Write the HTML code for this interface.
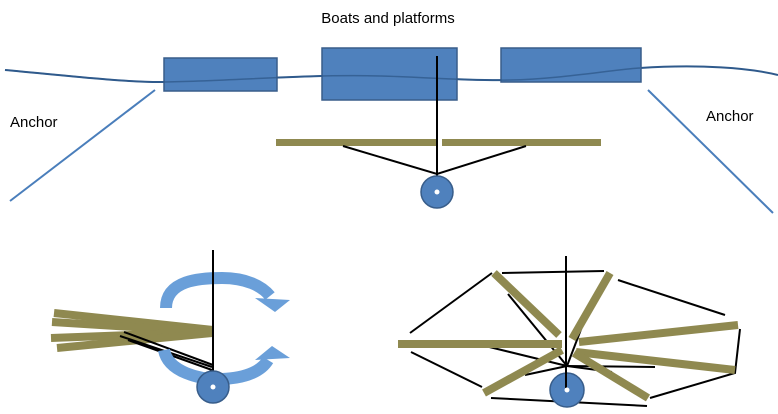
<!DOCTYPE html>
<html><head><meta charset="utf-8"><style>
html,body{margin:0;padding:0;background:#fff;}
svg{display:block;font-family:"Liberation Sans",sans-serif;}
</style></head><body>
<svg width="778" height="414" viewBox="0 0 778 414">
<text x="388" y="23" text-anchor="middle" font-size="15" fill="#000">Boats and platforms</text>
<path d="M5,70 C60,75 120,82 160,82 C220,82 300,74 380,76 C420,77 470,81 510,80 C560,79 610,70 640,68 C700,64 750,68 778,75" fill="none" stroke="#2f5a8c" stroke-width="2"/>
<g fill="#4f81bd" stroke="#385d8a" stroke-width="1.5">
<rect x="164" y="58" width="113" height="33"/>
<rect x="322" y="48" width="135" height="52"/>
<rect x="501" y="48" width="140" height="34"/>
</g>
<path d="M5,70 C60,75 120,82 160,82 C220,82 300,74 380,76 C420,77 470,81 510,80 C560,79 610,70 640,68" fill="none" stroke="#2f5a8c" stroke-width="1.5" opacity="0.8"/>
<line x1="155" y1="90" x2="10" y2="201" stroke="#4a7ebb" stroke-width="2"/>
<line x1="648" y1="90" x2="773" y2="213" stroke="#4a7ebb" stroke-width="2"/>
<text x="10" y="127" font-size="15">Anchor</text>
<text x="706" y="121" font-size="15">Anchor</text>
<rect x="276" y="139" width="160" height="7" fill="#8f8950"/>
<rect x="442" y="139" width="159" height="7" fill="#8f8950"/>
<g stroke="#000" stroke-width="2" fill="none">
<line x1="437" y1="56" x2="437" y2="190"/>
<polyline points="343,146 437,174 526,146"/>
</g>
<circle cx="437" cy="192" r="16" fill="#4f81bd" stroke="#385d8a" stroke-width="1.5"/>
<circle cx="437" cy="192" r="2.5" fill="#fff"/>

<g>
<path d="M166,308 C166,280 200,278 222,278 C246,278 262,286 270,296" fill="none" stroke="#6a9fd9" stroke-width="12"/>
<polygon points="255,298 290,300 275,312" fill="#6a9fd9"/>
<g stroke="#8f8950" stroke-width="8">
<line x1="54" y1="313" x2="213" y2="330"/>
<line x1="52" y1="322" x2="213" y2="332"/>
<line x1="51" y1="338" x2="213" y2="332"/>
<line x1="57" y1="348" x2="212" y2="333"/>
</g>
<g stroke="#000" stroke-width="2">
<line x1="124" y1="332" x2="213" y2="365"/>
<line x1="120" y1="336" x2="212" y2="367"/>
<line x1="128" y1="340" x2="212" y2="370"/>
<line x1="213" y1="250" x2="213" y2="385"/>
</g>
<path d="M164,350 C168,372 200,380 222,379 C248,378 262,370 268,360" fill="none" stroke="#6a9fd9" stroke-width="12"/>
<polygon points="255,360 290,358 272,346" fill="#6a9fd9"/>
<line x1="213" y1="360" x2="213" y2="380" stroke="#000" stroke-width="2"/>
<circle cx="213" cy="387" r="16" fill="#4f81bd" stroke="#385d8a" stroke-width="1.5"/>
<circle cx="213" cy="387" r="2.5" fill="#fff"/>
</g>

<g>
<g stroke="#000" stroke-width="2" fill="none">
<line x1="410" y1="333" x2="492" y2="273"/>
<line x1="502" y1="273" x2="604" y2="271"/>
<line x1="618" y1="280" x2="725" y2="315"/>
<polyline points="740,329 735,373 650,398"/>
<line x1="491" y1="398" x2="647" y2="406"/>
<line x1="411" y1="352" x2="482" y2="387"/>
<line x1="508" y1="294" x2="567" y2="366"/>
<line x1="588" y1="311" x2="567" y2="366"/>
<line x1="473" y1="343" x2="567" y2="366"/>
<line x1="525" y1="375" x2="567" y2="366"/>
<line x1="567" y1="366" x2="655" y2="367"/>
<line x1="567" y1="366" x2="612" y2="372"/>
<line x1="566" y1="256" x2="566" y2="390"/>
</g>
<g stroke="#8f8950" stroke-width="8">
<line x1="398" y1="344" x2="562" y2="344"/>
<line x1="494" y1="273" x2="559" y2="335"/>
<line x1="572" y1="339" x2="610" y2="273"/>
<line x1="579" y1="342" x2="738" y2="325"/>
<line x1="576" y1="352" x2="735" y2="370"/>
<line x1="484" y1="393" x2="562" y2="350"/>
<line x1="574" y1="353" x2="648" y2="398"/>
</g>
<line x1="566" y1="256" x2="566" y2="300" stroke="#000" stroke-width="2"/>
<circle cx="567" cy="390" r="17" fill="#4f81bd" stroke="#385d8a" stroke-width="1.5"/>
<line x1="566" y1="366" x2="566" y2="388" stroke="#000" stroke-width="2"/>
<circle cx="567" cy="390" r="2.5" fill="#fff"/>
</g>
</svg>
</body></html>
